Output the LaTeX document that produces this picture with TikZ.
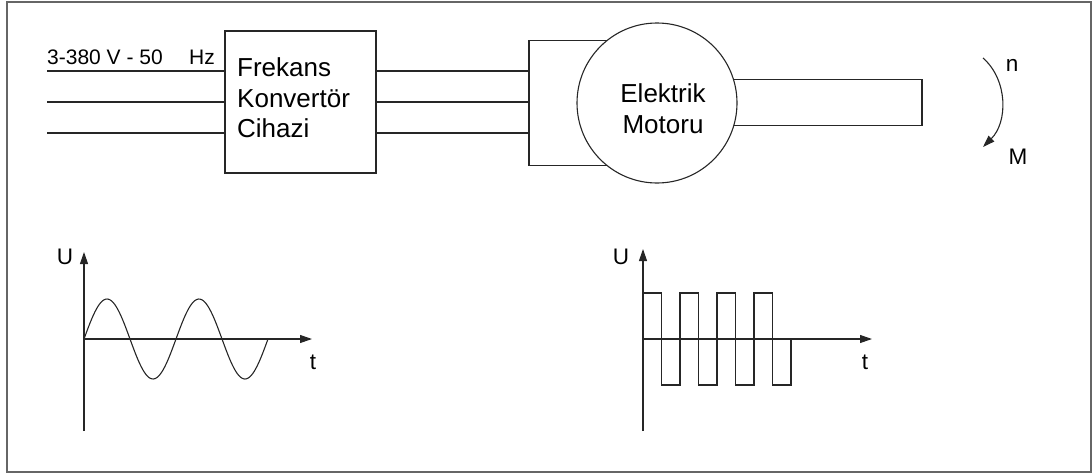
\documentclass[tikz,border=0pt]{standalone}
\usepackage{fontspec}
\setmainfont{Liberation Sans}
\usetikzlibrary{arrows.meta}
\begin{document}
\begin{tikzpicture}[x=1pt,y=-1pt,
  ln/.style={line width=1.1pt, draw=black!85},
  axis/.style={ln, -{Triangle[length=12pt,width=8pt]}},
  big/.style={font=\fontsize{26}{30}\selectfont, inner sep=0pt},
  mid/.style={font=\fontsize{21}{26}\selectfont, inner sep=0pt},
  lbl/.style={font=\fontsize{22.5}{26}\selectfont, inner sep=0pt}]
\useasboundingbox (0,0) rectangle (1092,474);
\draw[line width=1.2pt, draw=black!60] (7,2) rectangle (1091,472);

% input label
\node[mid, anchor=base west] (lab1) at (47,64) {3-380 V - 50};
\node[mid, anchor=base west] (lab2) at (189,64) {Hz};

% converter box
\node[ln, draw, rectangle, minimum width=151pt, minimum height=142pt, inner sep=0pt, outer sep=0pt] (conv) at (300.5,102) {};
\node[big, anchor=base west] (c1) at (237,76) {Frekans};
\node[big, anchor=base west] (c2) at (237,107) {Konvertör};
\node[big, anchor=base west] (c3) at (237,137) {Cihazi};

% input lines
\coordinate (i1) at (47,71);
\coordinate (i2) at (47,102);
\coordinate (i3) at (47,133);
\draw[ln] (i1) -- (i1 -| conv.west);
\draw[ln] (i2) -- (i2 -| conv.west);
\draw[ln] (i3) -- (i3 -| conv.west);

% motor
\node[ln, draw, circle, minimum size=160pt, inner sep=0pt, outer sep=0pt] (mot) at (657,103) {};
\node[big, anchor=base] (m1) at (663,102) {Elektrik};
\node[big, anchor=base] (m2) at (663,133) {Motoru};

% terminal bracket
\coordinate (bt) at (529,41);
\coordinate (bb) at (529,163);
\draw[ln] (mot.129.2) -- (mot.129.2 -| bt) -- (bb |- mot.-129.2) -- (mot.-129.2);
\draw[ln] (i1 -| conv.east) -- (i1 -| bt);
\draw[ln] (i2 -| conv.east) -- (i2 -| bt);
\draw[ln] (i3 -| conv.east) -- (i3 -| bt);

% shaft
\coordinate (sr) at (922,0);
\draw[ln] (mot.17.5) -- (mot.17.5 -| sr) -- (sr |- mot.-16.7) -- (mot.-16.7);

% rotation arrow
\coordinate (ra) at (983,58);
\coordinate (rb) at (983,147);
\draw[ln, -{Triangle[length=12pt,width=8pt]}] (ra) .. controls (1008,80) and (1008,122) .. (rb);
\node[lbl] (nn) at (1012,65) {n};
\node[lbl] (mm) at (1018,157) {M};

% sine graph
\coordinate (s0) at (84,339);
\draw[axis] (84,431) -- (84,252);
\draw[axis] (s0) -- (312,339);
\node[lbl] (u1) at (65,257) {U};
\node[lbl] (t1) at (313,362) {t};
\draw[ln, smooth, samples=120, domain=0:184] plot ({84+\x},{339-40*sin(3.913*\x)});

% square graph
\draw[axis] (643,431) -- (643,249);
\draw[axis] (643,339) -- (872,339);
\node[lbl] (u2) at (621,257) {U};
\node[lbl] (t2) at (865,362) {t};
\draw[ln] (643,293) -- (661.5,293) -- (661.5,385) -- (680,385) -- (680,293)
  -- (698.5,293) -- (698.5,385) -- (717,385) -- (717,293) -- (735.5,293)
  -- (735.5,385) -- (754,385) -- (754,293) -- (772.5,293) -- (772.5,385)
  -- (791,385) -- (791,339);
\end{tikzpicture}
\end{document}
